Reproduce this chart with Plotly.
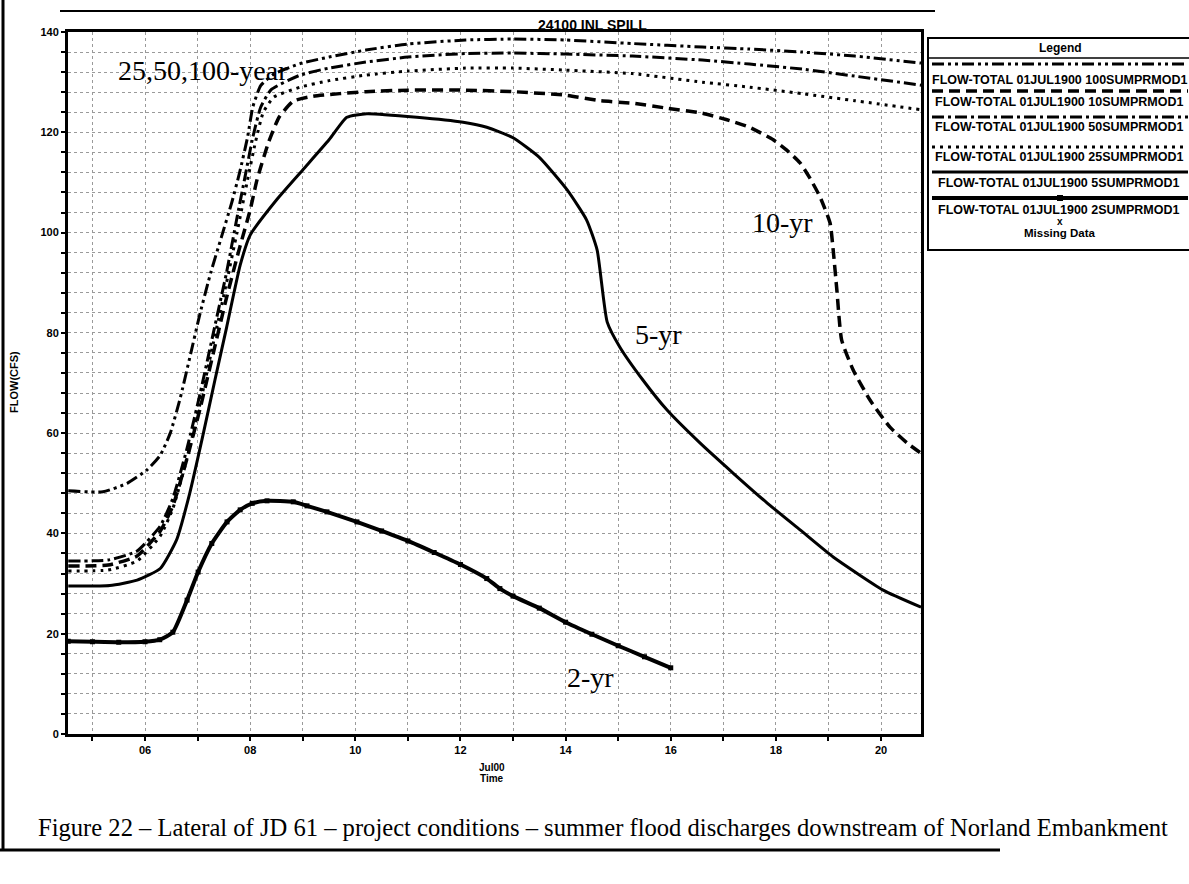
import plotly.graph_objects as go

# ---- discharge hydrographs (day of July, flow in cfs) ----
yr100_t = [4.54, 5.2, 5.66, 6.04, 6.29, 6.48, 6.67, 6.85, 7.05, 7.25, 7.45, 7.65, 7.8, 7.95, 8.05, 8.2,
           8.45, 8.95, 9.5, 10.2, 11.0, 12.1, 13.0, 14.0, 15.27, 16.6, 17.5, 18.5, 19.5, 20.76]
yr100_q = [48.5, 48.3, 50.0, 52.7, 55.6, 60.0, 67.0, 75.0, 84.0, 92.0, 99.0, 106.0, 112.0, 119.0, 125.0, 129.3,
           131.6, 133.7, 135.0, 136.4, 137.6, 138.4, 138.6, 138.4, 137.7, 137.0, 136.6, 136.0, 135.2, 133.8]

yr50_t = [4.54, 5.3, 5.85, 6.29, 6.53, 6.8, 7.05, 7.3, 7.55, 7.75, 7.9, 8.05, 8.2, 8.4, 8.95, 9.5,
          10.2, 11.0, 12.1, 13.0, 14.0, 15.27, 16.6, 17.5, 18.5, 19.5, 20.76]
yr50_q = [34.5, 34.7, 36.5, 41.5, 47.0, 57.0, 68.0, 80.0, 92.0, 103.0, 111.0, 119.0, 125.0, 128.5, 131.4, 132.8,
          134.0, 135.0, 135.7, 135.8, 135.6, 135.2, 134.4, 133.6, 132.6, 131.2, 129.4]

yr25_t = [4.54, 5.3, 5.85, 6.29, 6.53, 6.8, 7.05, 7.3, 7.55, 7.75, 7.95, 8.1, 8.25, 8.45, 8.95, 9.5,
          10.2, 11.0, 12.1, 13.0, 14.0, 15.27, 16.6, 17.5, 18.5, 19.5, 20.76]
yr25_q = [32.5, 32.7, 34.5, 39.5, 45.0, 55.0, 66.0, 78.0, 90.0, 100.0, 110.5, 118.0, 124.0, 127.0, 129.0, 130.3,
          131.4, 132.2, 132.8, 132.8, 132.4, 131.7, 130.0, 129.0, 127.7, 126.3, 124.5]

yr10_t = [4.54, 5.3, 5.85, 6.29, 6.53, 6.8, 7.05, 7.3, 7.55, 7.8, 8.0, 8.13, 8.35, 8.55, 8.82, 9.2,
          10.2, 11.0, 12.1, 13.0, 14.0, 14.65, 15.27, 15.93, 16.6, 17.07, 17.5, 17.95, 18.2, 18.46,
          18.65, 18.84, 19.03, 19.09, 19.16, 19.25, 19.47, 19.79, 20.17, 20.5, 20.76]
yr10_q = [33.5, 33.7, 35.5, 40.5, 45.5, 55.0, 65.0, 76.0, 87.0, 97.0, 104.5, 110.5, 118.0, 123.0, 126.2, 127.2,
          128.1, 128.4, 128.4, 128.1, 127.4, 126.3, 125.8, 124.8, 123.8, 122.5, 121.0, 118.5, 116.5, 113.9,
          110.8, 107.1, 101.9, 96.5, 88.5, 78.6, 72.6, 66.6, 61.2, 58.0, 56.0]

yr5_t = [4.54, 5.33, 5.85, 6.29, 6.6, 6.85, 7.1, 7.33, 7.55, 7.81, 8.0, 8.5, 9.0, 9.5, 9.84, 10.22,
         11.17, 12.05, 12.5, 13.0, 13.5, 14.03, 14.4, 14.6, 14.79, 15.03, 15.47, 15.93, 16.56, 17.19,
         17.83, 18.46, 19.09, 20.04, 20.76]
yr5_q = [29.5, 29.6, 30.7, 33.0, 38.7, 48.0, 59.5, 70.6, 81.0, 93.5, 99.5, 106.5, 112.5, 118.5, 123.0, 123.7,
         123.0, 122.0, 121.0, 118.9, 115.0, 108.5, 102.5, 96.5, 82.2, 77.2, 70.6, 64.6, 58.0, 52.0,
         46.1, 40.7, 35.3, 28.7, 25.3]

yr2_t = [4.54, 5.0, 5.5, 6.0, 6.28, 6.53, 6.8, 7.01, 7.27, 7.56, 7.81, 8.04, 8.32, 8.82, 9.08, 9.46,
         10.03, 10.5, 11.0, 11.5, 12.0, 12.5, 12.75, 13.0, 13.5, 14.0, 14.5, 15.0, 15.5, 16.0]
yr2_q = [18.5, 18.4, 18.3, 18.4, 18.8, 20.3, 26.7, 32.3, 38.0, 42.3, 44.7, 46.0, 46.5, 46.3, 45.5, 44.3,
         42.3, 40.5, 38.5, 36.2, 33.8, 31.0, 29.0, 27.5, 25.1, 22.3, 19.9, 17.6, 15.4, 13.2]

x_tick_days = list(range(5, 21))
x_tick_text = [f"{d:02d}" if d % 2 == 0 else "" for d in x_tick_days]
y_tick_vals = list(range(0, 141, 4))
y_tick_text = [str(v) if v % 20 == 0 else "" for v in y_tick_vals]

legend_names = [
    "FLOW-TOTAL 01JUL1900 100SUMPRMOD1",
    "FLOW-TOTAL 01JUL1900 10SUMPRMOD1",
    "FLOW-TOTAL 01JUL1900 50SUMPRMOD1",
    "FLOW-TOTAL 01JUL1900 25SUMPRMOD1",
    "FLOW-TOTAL 01JUL1900 5SUMPRMOD1",
    "FLOW-TOTAL 01JUL1900 2SUMPRMOD1",
]

# ---- page geometry (pixels) ----
W, H = 1189, 884
L, R, T, B = 68, 921, 32, 734


def fx(x):
    return (x - L) / (R - L)


def fy(y):
    return (B - y) / (B - T)


DASH_100 = "12px,4px,3px,4px,3px,4px"
DASH_50 = "12px,4px,3px,4px"
DASH_25 = "3px,5px"
DASH_10 = "11px,6px"

fig = go.Figure()

series = [
    (yr100_t, yr100_q, DASH_100, 3.0),
    (yr50_t, yr50_q, DASH_50, 3.0),
    (yr25_t, yr25_q, DASH_25, 3.0),
    (yr10_t, yr10_q, DASH_10, 3.5),
    (yr5_t, yr5_q, "solid", 3.0),
]
for t, q, dash, w in series:
    fig.add_trace(go.Scatter(
        x=t, y=q, mode="lines",
        line=dict(color="black", width=w, dash=dash, shape="spline", smoothing=0.5),
        showlegend=False, hoverinfo="skip",
    ))

fig.add_trace(go.Scatter(
    x=yr2_t, y=yr2_q, mode="lines+markers",
    line=dict(color="black", width=4, shape="spline", smoothing=0.5),
    marker=dict(symbol="square", size=5, color="black"),
    showlegend=False, hoverinfo="skip",
))

tick_font = dict(family="Liberation Sans", size=11, color="black", weight="bold")
grid = dict(showgrid=True, gridcolor="#9a9a9a", griddash="dot", gridwidth=1)

fig.update_xaxes(
    range=[4.535, 20.76], tickmode="array", tickvals=x_tick_days, ticktext=x_tick_text,
    showline=True, linewidth=3, linecolor="black", mirror=True,
    ticks="outside", ticklen=4, tickwidth=2, tickcolor="black",
    zeroline=False, tickfont=tick_font, **grid,
)
fig.update_yaxes(
    range=[0, 140], tickmode="array", tickvals=y_tick_vals, ticktext=y_tick_text,
    showline=True, linewidth=3, linecolor="black", mirror=True,
    ticks="outside", ticklen=4, tickwidth=2, tickcolor="black",
    zeroline=False, tickfont=tick_font, **grid,
)

serif = dict(family="Liberation Serif", size=28, color="black")
annotations = [
    dict(x=7.1, y=132.4, text="25,50,100-year", font=serif),
    dict(x=18.12, y=102.1, text="10-yr", font=serif),
    dict(x=15.76, y=79.6, text="5-yr", font=serif),
    dict(x=14.47, y=11.2, text="2-yr", font=serif),
]
for a in annotations:
    a.update(xref="x", yref="y", showarrow=False, xanchor="center", yanchor="middle")


def page_text(x, y, text, size, bold=True, family="Liberation Sans", angle=0, xanchor="center"):
    return dict(xref="paper", yref="paper", x=fx(x), y=fy(y), text=text, showarrow=False,
                xanchor=xanchor, yanchor="middle", textangle=angle,
                font=dict(family=family, size=size, color="black", weight="bold" if bold else "normal"))


annotations += [
    page_text(592, 25, "24100 INL SPILL", 14),
    page_text(14, 382, "FLOW(CFS)", 11, angle=-90),
    page_text(492, 767, "Jul00", 10),
    page_text(492, 778, "Time", 10),
    page_text(36, 827, "Figure 22 \u2013 Lateral of JD 61 \u2013 project conditions \u2013 summer flood discharges downstream of Norland Embankment",
              24.6, bold=False, family="Liberation Serif", xanchor="left"),
]

shapes = []


def hline(x0, x1, y, width=2, dash="solid"):
    shapes.append(dict(type="line", xref="paper", yref="paper", x0=fx(x0), x1=fx(x1), y0=fy(y), y1=fy(y),
                       line=dict(color="black", width=width, dash=dash)))


def vline(x, y0, y1, width=2):
    shapes.append(dict(type="line", xref="paper", yref="paper", x0=fx(x), x1=fx(x), y0=fy(y0), y1=fy(y1),
                       line=dict(color="black", width=width)))


# legend box
shapes.append(dict(type="rect", xref="paper", yref="paper", x0=fx(928), x1=fx(1196), y0=fy(38), y1=fy(250),
                   line=dict(color="black", width=2), fillcolor="white"))
hline(928, 1196, 58, width=1.5)
annotations.append(page_text(1060, 48, "Legend", 12))

sample_y = [64, 91, 117, 147, 172, 198]
text_y = [80, 102, 127, 157, 183, 210]
sample_styles = [(DASH_100, 3), (DASH_10, 3.5), (DASH_50, 3), (DASH_25, 3), ("solid", 3), ("solid", 4)]
for sy, ty, (dash, w), name in zip(sample_y, text_y, sample_styles, legend_names):
    hline(932, 1188, sy, width=w, dash=dash)
    annotations.append(page_text(1059, ty, name, 12.5))
shapes.append(dict(type="rect", xref="paper", yref="paper", x0=fx(1057), x1=fx(1063), y0=fy(195), y1=fy(201),
                   line=dict(color="black", width=0), fillcolor="black"))
annotations.append(page_text(1060, 222, "x", 10))
annotations.append(page_text(1060, 233, "Missing Data", 11.5))

# page frame
hline(60, 935, 11, width=2)
vline(3, 0, 850, width=3)
hline(0, 1000, 850, width=3)

fig.update_layout(
    width=W, height=H,
    margin=dict(l=L, r=W - R, t=T, b=H - B),
    paper_bgcolor="white", plot_bgcolor="white",
    annotations=annotations, shapes=shapes,
    showlegend=False,
)

fig.write_html("out.html")
